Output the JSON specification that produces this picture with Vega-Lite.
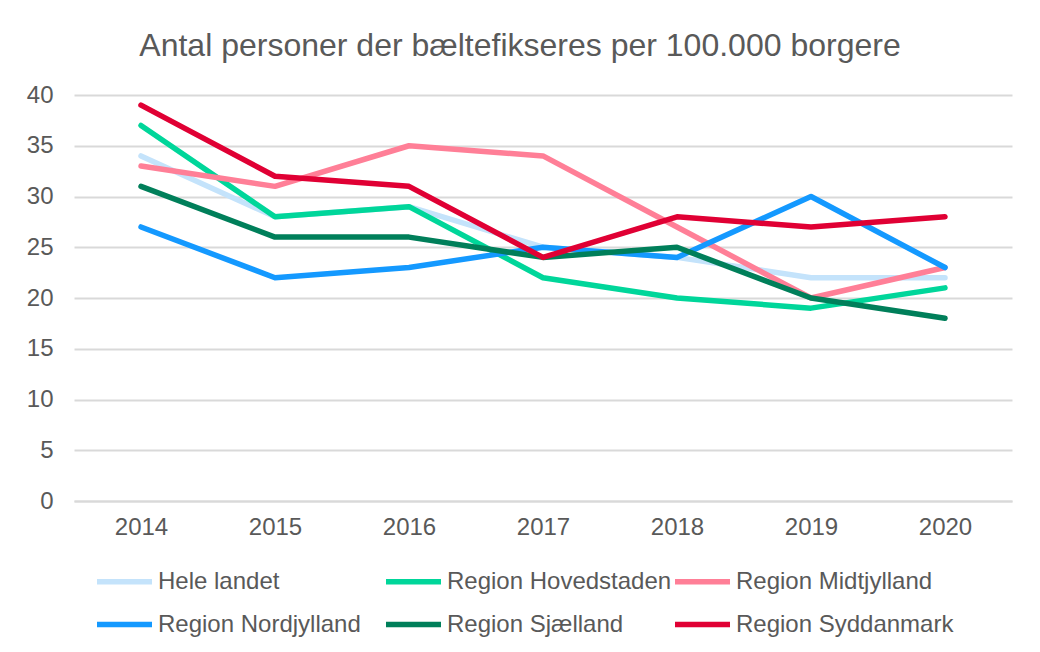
{
  "$schema": "https://vega.github.io/schema/vega-lite/v6.json",
  "width": 938,
  "height": 406,
  "autosize": {"type": "none"},
  "padding": {"left": 74, "top": 95, "right": 28, "bottom": 151},
  "background": "white",
  "title": {
    "text": "Antal personer der bæltefikseres per 100.000 borgere",
    "font": "Liberation Sans",
    "fontSize": 32,
    "fontWeight": "normal",
    "color": "#595959",
    "anchor": "middle",
    "frame": "group",
    "dx": -23,
    "baseline": "alphabetic",
    "offset": -5
  },
  "data": {
    "values": [
      {"year": "2014", "region": "Hele landet", "value": 34},
      {"year": "2015", "region": "Hele landet", "value": 28},
      {"year": "2016", "region": "Hele landet", "value": 29},
      {"year": "2017", "region": "Hele landet", "value": 25},
      {"year": "2018", "region": "Hele landet", "value": 24},
      {"year": "2019", "region": "Hele landet", "value": 22},
      {"year": "2020", "region": "Hele landet", "value": 22},
      {"year": "2014", "region": "Region Hovedstaden", "value": 37},
      {"year": "2015", "region": "Region Hovedstaden", "value": 28},
      {"year": "2016", "region": "Region Hovedstaden", "value": 29},
      {"year": "2017", "region": "Region Hovedstaden", "value": 22},
      {"year": "2018", "region": "Region Hovedstaden", "value": 20},
      {"year": "2019", "region": "Region Hovedstaden", "value": 19},
      {"year": "2020", "region": "Region Hovedstaden", "value": 21},
      {"year": "2014", "region": "Region Midtjylland", "value": 33},
      {"year": "2015", "region": "Region Midtjylland", "value": 31},
      {"year": "2016", "region": "Region Midtjylland", "value": 35},
      {"year": "2017", "region": "Region Midtjylland", "value": 34},
      {"year": "2018", "region": "Region Midtjylland", "value": 27},
      {"year": "2019", "region": "Region Midtjylland", "value": 20},
      {"year": "2020", "region": "Region Midtjylland", "value": 23},
      {"year": "2014", "region": "Region Nordjylland", "value": 27},
      {"year": "2015", "region": "Region Nordjylland", "value": 22},
      {"year": "2016", "region": "Region Nordjylland", "value": 23},
      {"year": "2017", "region": "Region Nordjylland", "value": 25},
      {"year": "2018", "region": "Region Nordjylland", "value": 24},
      {"year": "2019", "region": "Region Nordjylland", "value": 30},
      {"year": "2020", "region": "Region Nordjylland", "value": 23},
      {"year": "2014", "region": "Region Sjælland", "value": 31},
      {"year": "2015", "region": "Region Sjælland", "value": 26},
      {"year": "2016", "region": "Region Sjælland", "value": 26},
      {"year": "2017", "region": "Region Sjælland", "value": 24},
      {"year": "2018", "region": "Region Sjælland", "value": 25},
      {"year": "2019", "region": "Region Sjælland", "value": 20},
      {"year": "2020", "region": "Region Sjælland", "value": 18},
      {"year": "2014", "region": "Region Syddanmark", "value": 39},
      {"year": "2015", "region": "Region Syddanmark", "value": 32},
      {"year": "2016", "region": "Region Syddanmark", "value": 31},
      {"year": "2017", "region": "Region Syddanmark", "value": 24},
      {"year": "2018", "region": "Region Syddanmark", "value": 28},
      {"year": "2019", "region": "Region Syddanmark", "value": 27},
      {"year": "2020", "region": "Region Syddanmark", "value": 28}
    ]
  },
  "mark": {"type": "line", "strokeWidth": 5.5, "strokeCap": "round", "strokeJoin": "round"},
  "encoding": {
    "x": {
      "field": "year",
      "type": "ordinal",
      "scale": {"type": "point", "padding": 0.5},
      "axis": {
        "title": null,
        "labelAngle": 0,
        "labelFont": "Liberation Sans",
        "labelFontSize": 24,
        "labelColor": "#595959",
        "labelPadding": 14,
        "ticks": false,
        "grid": false,
        "domain": true,
        "domainColor": "#D9D9D9",
        "domainWidth": 2
      }
    },
    "y": {
      "field": "value",
      "type": "quantitative",
      "scale": {"domain": [0, 40], "nice": false},
      "axis": {
        "title": null,
        "values": [0, 5, 10, 15, 20, 25, 30, 35, 40],
        "labelFont": "Liberation Sans",
        "labelFontSize": 24,
        "labelColor": "#595959",
        "labelPadding": 21,
        "ticks": false,
        "domain": false,
        "grid": true,
        "gridColor": "#D9D9D9",
        "gridWidth": 2
      }
    },
    "color": {
      "field": "region",
      "type": "nominal",
      "scale": {
        "domain": ["Hele landet", "Region Hovedstaden", "Region Midtjylland", "Region Nordjylland", "Region Sjælland", "Region Syddanmark"],
        "range": ["#C4E3FB", "#00D69A", "#FF7F97", "#1499FF", "#007F5A", "#E00034"]
      },
      "legend": {
        "title": null,
        "orient": "none",
        "legendX": 20,
        "legendY": 456,
        "direction": "horizontal",
        "columns": 3,
        "gridAlign": "all",
        "columnPadding": -8,
        "rowPadding": -4,
        "padding": 0,
        "symbolType": "stroke",
        "symbolSize": 3025,
        "symbolStrokeWidth": 5.5,
        "labelFont": "Liberation Sans",
        "labelFontSize": 24,
        "labelColor": "#595959",
        "labelOffset": 3,
        "labelLimit": 400
      }
    }
  },
  "config": {"view": {"stroke": null}}
}
